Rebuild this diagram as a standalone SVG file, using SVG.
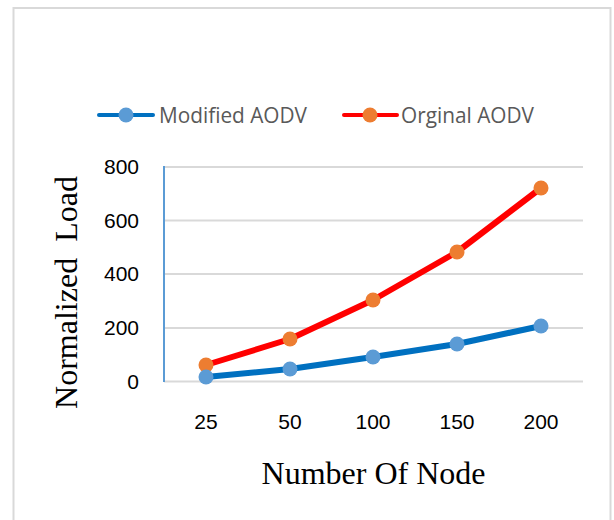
<svg xmlns="http://www.w3.org/2000/svg" width="614" height="520" viewBox="0 0 614 520">
<style>
.grid{stroke:#d9d9d9;stroke-width:2}
.tick{font-family:"Liberation Sans",Arial,sans-serif;font-size:21px;fill:#000}
.leg{font-family:"Open Sans","Liberation Sans",sans-serif;font-size:22px;fill:#595959}
.title{font-family:"Liberation Serif","Times New Roman",serif;font-size:32px;fill:#000}
.blue{fill:none;stroke:#0070c0;stroke-width:6;stroke-linejoin:round}
.red{fill:none;stroke:#ff0000;stroke-width:6;stroke-linejoin:round}
.bm{fill:#5b9bd5}
.rm{fill:#ed7d31}
</style>
<rect x="0" y="0" width="614" height="520" fill="#fff"/>
<path d="M13.5 530 V8 H610.5 V530" fill="none" stroke="#d9d9d9" stroke-width="2"/>
<g id="grid">
<line class="grid" x1="164" y1="167" x2="583" y2="167"/>
<line class="grid" x1="164" y1="220.5" x2="583" y2="220.5"/>
<line class="grid" x1="164" y1="274" x2="583" y2="274"/>
<line class="grid" x1="164" y1="328" x2="583" y2="328"/>
<line class="grid" x1="164" y1="381.5" x2="583" y2="381.5"/>
<line x1="164" y1="166" x2="164" y2="382" stroke="#5b9bd5" stroke-width="2"/>
</g>
<g id="y-ticks" text-anchor="end">
<text class="tick" x="139" y="174">800</text>
<text class="tick" x="139" y="228">600</text>
<text class="tick" x="139" y="281">400</text>
<text class="tick" x="139" y="335">200</text>
<text class="tick" x="139" y="389">0</text>
</g>
<g id="x-ticks" text-anchor="middle">
<text class="tick" x="206" y="429">25</text>
<text class="tick" x="290" y="429">50</text>
<text class="tick" x="373" y="429">100</text>
<text class="tick" x="457" y="429">150</text>
<text class="tick" x="541" y="429">200</text>
</g>
<g id="connectors">
<polyline class="red" points="206,365 290,339 373,300 457,252 541,188"/>
<polyline class="blue" points="206,377 290,369 373,357 457,344 541,326"/>
</g>
<g id="series-orginal">
<circle class="rm" cx="206" cy="365" r="7.5"/>
<circle class="rm" cx="290" cy="339" r="7.5"/>
<circle class="rm" cx="373" cy="300" r="7.5"/>
<circle class="rm" cx="457" cy="252" r="7.5"/>
<circle class="rm" cx="541" cy="188" r="7.5"/>
</g>
<g id="series-modified">
<circle class="bm" cx="206" cy="377" r="7.5"/>
<circle class="bm" cx="290" cy="369" r="7.5"/>
<circle class="bm" cx="373" cy="357" r="7.5"/>
<circle class="bm" cx="457" cy="344" r="7.5"/>
<circle class="bm" cx="541" cy="326" r="7.5"/>
</g>
<g id="legend">
<line x1="99" y1="115" x2="153" y2="115" stroke="#0070c0" stroke-width="4" stroke-linecap="round"/>
<circle class="bm" cx="126" cy="115" r="7.5"/>
<text class="leg" x="159" y="123" textLength="148" lengthAdjust="spacingAndGlyphs">Modified AODV</text>
<line x1="344" y1="115" x2="397" y2="115" stroke="#ff0000" stroke-width="4" stroke-linecap="round"/>
<circle class="rm" cx="370" cy="115" r="7.5"/>
<text class="leg" x="401" y="123" textLength="133" lengthAdjust="spacingAndGlyphs">Orginal AODV</text>
</g>
<g id="axis-titles">
<text class="title" text-anchor="middle" x="373.5" y="484">Number Of Node</text>
<text class="title" text-anchor="middle" transform="translate(77 292.5) rotate(-90)" xml:space="preserve">Normalized  Load</text>
</g>
</svg>
